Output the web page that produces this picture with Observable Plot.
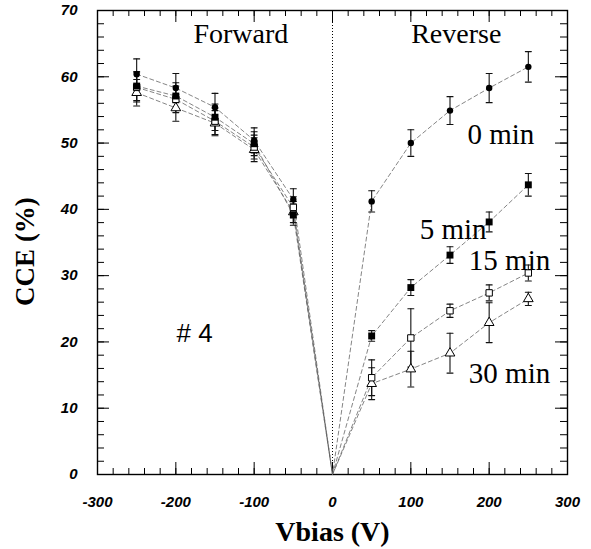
<!DOCTYPE html>
<html><head><meta charset="utf-8">
<script src="https://cdn.jsdelivr.net/npm/d3@7"></script>
<script src="https://cdn.jsdelivr.net/npm/@observablehq/plot@0.6"></script>
<style>body{margin:0;background:#fff}</style>
</head><body><div id="chart"></div>
<script>
// Bias voltages (V)
const vbias = [-250, -200, -150, -100, -50, 0, 50, 100, 150, 200, 250];
// CCE (%) and errors for each annealing time
const cce0  = [60.4, 58.3, 55.4, 50.4, 41.5, 0, 41.2, 50.0, 54.9, 58.3, 61.5];
const err0  = [2.3, 2.2, 2.1, 1.9, 1.6, 0, 1.6, 2.0, 2.1, 2.2, 2.3];
const cce5  = [58.6, 57.1, 53.9, 49.9, 39.2, 0, 20.9, 28.2, 33.1, 38.1, 43.7];
const err5  = [2.2, 2.0, 2.0, 1.8, 1.6, 0, 0.8, 1.2, 1.25, 1.5, 1.7];
const cce15 = [58.4, 56.6, 53.3, 49.4, 40.3, 0, 14.6, 20.6, 24.7, 27.4, 30.4];
const err15 = [2.2, 2.0, 2.0, 1.8, 1.6, 0, 2.7, 4.4, 1.0, 1.2, 1.2];
const cce30 = [57.6, 55.3, 53.0, 49.0, 39.6, 0, 13.7, 15.9, 18.3, 22.9, 26.5];
const err30 = [2.0, 2.0, 1.9, 1.8, 1.6, 0, 2.4, 2.7, 3.0, 3.0, 1.0];
const seriesNames = ["0 min", "5 min", "15 min", "30 min"];
// Axis ticks
const xMajor = [-300, -200, -100, 0, 100, 200, 300];
const yMajor = [0, 10, 20, 30, 40, 50, 60, 70];
const xMinor = d3.range(-300, 301, 20);
const yMinor = d3.range(0, 71, 2);

const seriesData = [[cce0, err0], [cce5, err5], [cce15, err15], [cce30, err30]];
const rows = seriesNames.flatMap((name, k) => vbias.map((v, i) => ({
  series: name, v, cce: seriesData[k][0][i], err: seriesData[k][1][i]
})));
const pts = rows.filter(d => d.v !== 0);
const of = name => pts.filter(d => d.series === name);

const W = 591, H = 549, mL = 97, mR = 24, mT = 10, mB = 75;
const fw = W - mL - mR, fh = H - mT - mB;
const capShape = {draw(context, l) { context.moveTo(0, 0); context.lineTo(0, -l); }};
const serif = "'Liberation Serif', 'Times New Roman', serif";
const sans = "'Liberation Sans', Arial, sans-serif";

const chart = Plot.plot({
  width: W, height: H,
  marginLeft: mL, marginRight: mR, marginTop: mT, marginBottom: mB,
  style: {background: "#fff", color: "#000", fontFamily: sans},
  x: {domain: [-300, 300]},
  y: {domain: [0, 70]},
  marks: [
    Plot.ruleX([0], {stroke: "#000", strokeWidth: 1, strokeDasharray: "1,2"}),
    // bottom / top ticks
    Plot.tickX(xMinor, {x: d => d, insetTop: fh - 6, stroke: "#000"}),
    Plot.tickX(xMajor, {x: d => d, insetTop: fh - 12, stroke: "#000"}),
    Plot.tickX(xMinor, {x: d => d, insetBottom: fh - 6, stroke: "#000"}),
    Plot.tickX(xMajor, {x: d => d, insetBottom: fh - 12, stroke: "#000"}),
    // left / right ticks
    Plot.tickY(yMinor, {y: d => d, insetRight: fw - 7, stroke: "#000"}),
    Plot.tickY(yMajor, {y: d => d, insetRight: fw - 12, stroke: "#000"}),
    Plot.tickY(yMinor, {y: d => d, insetLeft: fw - 7, stroke: "#000"}),
    Plot.tickY(yMajor, {y: d => d, insetLeft: fw - 12, stroke: "#000"}),
    Plot.frame({stroke: "#000", strokeWidth: 1.4}),
    Plot.axisX({ticks: xMajor, tickSize: 0, tickPadding: 22, tickFormat: d => `${d}`, label: null,
      fontSize: 15, fontWeight: "bold", fontStyle: "italic", fontFamily: sans}),
    Plot.axisY({ticks: yMajor, tickSize: 0, tickPadding: 20, tickFormat: d => `${d}`, label: null,
      fontSize: 15, fontWeight: "bold", fontStyle: "italic", fontFamily: sans}),
    // connecting dashed lines
    Plot.line(rows, {x: "v", y: "cce", z: "series", stroke: "#666", strokeWidth: 0.8, strokeDasharray: "4,3"}),
    // error bars
    Plot.ruleX(pts, {x: "v", y1: d => d.cce - d.err, y2: d => d.cce + d.err, stroke: "#111", strokeWidth: 1.1}),
    Plot.vector(pts, {x: "v", y: d => d.cce - d.err, length: 6, rotate: 90, anchor: "middle", shape: capShape, stroke: "#111", strokeWidth: 1.1}),
    Plot.vector(pts, {x: "v", y: d => d.cce + d.err, length: 6, rotate: 90, anchor: "middle", shape: capShape, stroke: "#111", strokeWidth: 1.1}),
    // markers
    Plot.dot(of("30 min"), {x: "v", y: "cce", symbol: "triangle", r: 3.6, fill: "#fff", stroke: "#000", strokeWidth: 1}),
    Plot.dot(of("15 min"), {x: "v", y: "cce", symbol: "square", r: 3.6, fill: "#fff", stroke: "#000", strokeWidth: 1}),
    Plot.dot(of("5 min"), {x: "v", y: "cce", symbol: "square", r: 3.9, fill: "#000", stroke: "none"}),
    Plot.dot(of("0 min"), {x: "v", y: "cce", symbol: "circle", r: 3.2, fill: "#000", stroke: "none"}),
    // annotations
    Plot.text(["Forward"], {x: -117, y: 66.4, fontFamily: serif, fontSize: 28}),
    Plot.text(["Reverse"], {x: 158, y: 66.4, fontFamily: serif, fontSize: 28}),
    Plot.text(["0 min"], {x: 215, y: 51.3, fontFamily: serif, fontSize: 29}),
    Plot.text(["5 min"], {x: 154, y: 37.0, fontFamily: serif, fontSize: 29}),
    Plot.text(["15 min"], {x: 226, y: 32.3, fontFamily: serif, fontSize: 29}),
    Plot.text(["30 min"], {x: 226, y: 15.2, fontFamily: serif, fontSize: 29}),
    Plot.text(["# 4"], {x: -176, y: 21.2, fontFamily: sans, fontSize: 26}),
    // axis titles
    Plot.text(["CCE (%)"], {frameAnchor: "left", dx: -72, dy: 9, rotate: -90, textAnchor: "middle", lineAnchor: "middle",
      fontFamily: serif, fontSize: 27, fontWeight: "bold"}),
    Plot.text(["Vbias (V)"], {frameAnchor: "bottom", dy: 58, textAnchor: "middle", lineAnchor: "middle",
      fontFamily: serif, fontSize: 28, fontWeight: "bold"})
  ]
});
document.getElementById("chart").appendChild(chart);
</script>
</body></html>
